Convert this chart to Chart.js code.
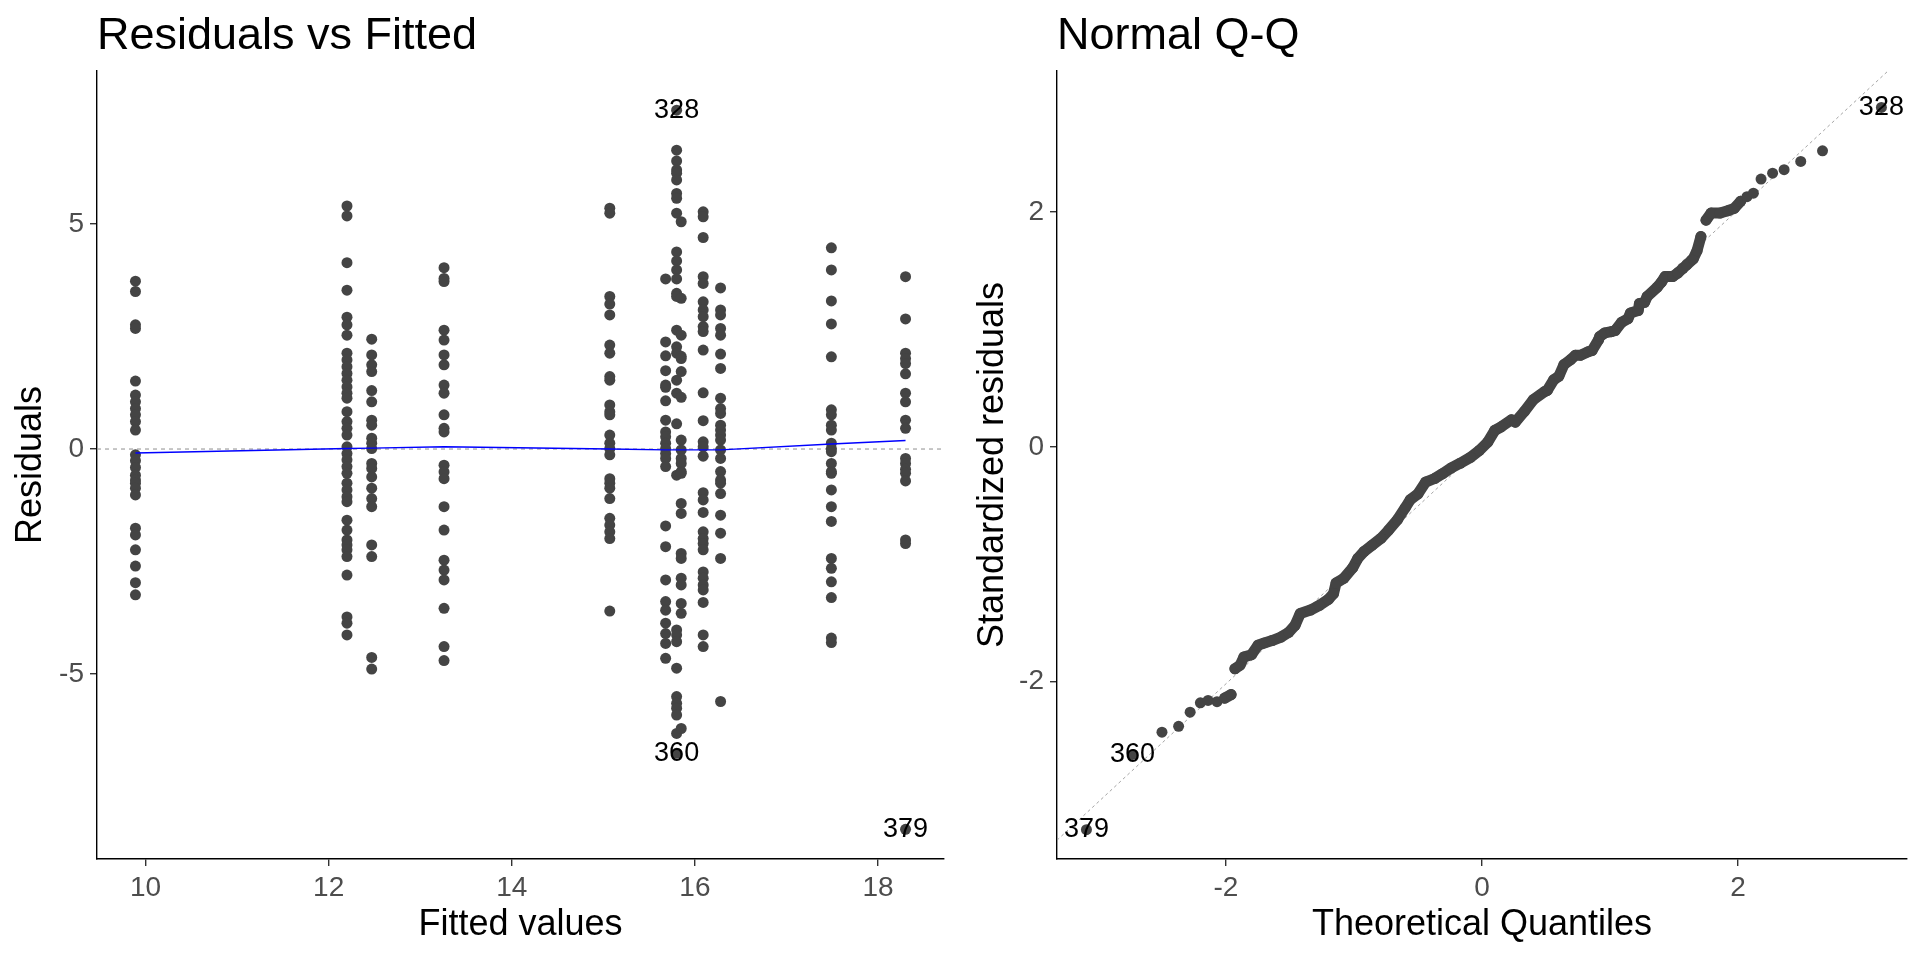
<!DOCTYPE html>
<html>
<head>
<meta charset="utf-8">
<title>Residuals vs Fitted / Normal Q-Q</title>
<script src="https://cdn.jsdelivr.net/npm/chart.js@4.4.1/dist/chart.umd.min.js"></script>
<style>
    html, body { margin: 0; padding: 0; background: #ffffff; }
    .panel { position: absolute; top: 0; width: 960px; height: 960px; }
    #left-panel { left: 0; }
    #right-panel { left: 960px; }
</style>
</head>
<body>
<div class="panel" id="left-panel"><canvas id="residuals-fitted"></canvas></div>
<div class="panel" id="right-panel"><canvas id="normal-qq"></canvas></div>
<script>
// ---- Residuals vs Fitted: residuals ----
const fittedLevels = [9.89, 12.2, 12.47, 13.26, 15.07, 15.68, 15.80, 15.85, 16.09, 16.28, 17.49, 18.30];

const resAt9_89 = [3.73, 3.50, 2.76, 2.68, 1.51, 1.20, 1.05, 0.90, 0.76, 0.61, 0.42, -0.13, -0.26, -0.41, -0.58, -0.69, -0.76, -0.87, -1.02, -1.76, -1.91, -2.24, -2.60, -2.97, -3.24];
const resAt12_2 = [5.40, 5.18, 4.14, 3.53, 2.93, 2.76, 2.53, 2.13, 1.98, 1.83, 1.68, 1.53, 1.38, 1.24, 1.13, 0.83, 0.61, 0.46, 0.31, 0.05, -0.10, -0.24, -0.39, -0.54, -0.76, -0.91, -1.06, -1.17, -1.58, -1.80, -2.02, -2.13, -2.24, -2.39, -2.80, -3.73, -3.87, -4.13];
const resAt12_47 = [2.44, 2.09, 1.87, 1.72, 1.30, 1.05, 0.64, 0.53, 0.24, 0.13, 0.01, -0.32, -0.43, -0.62, -0.87, -1.10, -1.28, -2.13, -2.39, -4.63, -4.89];
const resAt13_26 = [4.03, 3.79, 3.72, 2.64, 2.42, 2.09, 1.87, 1.42, 1.24, 0.76, 0.46, 0.38, -0.36, -0.51, -0.66, -1.28, -1.80, -2.47, -2.69, -2.91, -3.54, -4.39, -4.70];
const resAt15_07 = [5.35, 5.24, 3.39, 3.22, 2.98, 2.31, 2.13, 1.61, 1.53, 0.98, 0.83, 0.76, 0.31, 0.13, 0.01, -0.13, -0.66, -0.76, -0.87, -1.10, -1.54, -1.69, -1.84, -1.99, -3.60];
const resAt15_68 = [3.78, 2.38, 2.07, 1.74, 1.42, 1.37, 1.07, 0.64, 0.38, 0.27, 0.13, 0.01, -0.10, -0.21, -0.39, -1.71, -2.17, -2.91, -3.39, -3.58, -3.87, -4.10, -4.32, -4.65];
const resAt15_80 = [7.53, 6.64, 6.40, 6.20, 6.13, 5.98, 5.68, 5.57, 5.24, 4.38, 4.18, 3.98, 3.78, 3.46, 3.39, 2.64, 2.27, 2.13, 1.53, 1.24, 0.56, -0.58, -4.02, -4.13, -4.28, -4.87, -5.50, -5.65, -5.76, -5.91, -6.32, -6.76];
const resAt15_85 = [5.05, 3.35, 2.53, 2.06, 2.01, 1.72, 1.15, 0.20, -0.02, -0.21, -0.32, -0.50, -0.54, -1.21, -1.43, -2.32, -2.43, -2.87, -3.02, -3.43, -3.65, -6.21];
const resAt16_09 = [5.27, 5.16, 4.70, 3.83, 3.68, 3.27, 3.09, 2.94, 2.72, 2.61, 2.20, 1.25, 0.63, 0.16, 0.05, -0.16, -0.97, -1.13, -1.41, -1.84, -1.99, -2.10, -2.24, -2.73, -2.87, -3.02, -3.13, -3.41, -4.13, -4.39];
const resAt16_28 = [3.58, 3.09, 2.98, 2.68, 2.53, 2.11, 1.79, 1.13, 0.90, 0.79, 0.53, 0.42, 0.31, 0.20, -0.02, -0.21, -0.50, -0.69, -0.76, -0.99, -1.47, -1.87, -2.43, -5.61];
const resAt17_49 = [4.47, 3.98, 3.29, 2.78, 2.05, 0.87, 0.76, 0.53, 0.42, 0.13, 0.01, -0.06, -0.32, -0.50, -0.54, -0.91, -1.28, -1.61, -2.43, -2.65, -2.95, -3.30, -4.20, -4.30];
const resAt18_30 = [3.83, 2.89, 2.13, 2.01, 1.90, 1.67, 1.24, 1.05, 0.64, 0.46, -0.21, -0.32, -0.45, -0.54, -0.71, -2.02, -2.10, -8.45];

const residualGroups = [resAt9_89, resAt12_2, resAt12_47, resAt13_26, resAt15_07, resAt15_68,
                        resAt15_80, resAt15_85, resAt16_09, resAt16_28, resAt17_49, resAt18_30];

// smoother (blue line) at each fitted level
const smoothY = [-0.09, 0.01, 0.02, 0.05, 0.00, -0.02, -0.02, -0.02, -0.02, -0.02, 0.11, 0.19];

const fittedTicks = [10, 12, 14, 16, 18];
const residualTicks = [-5, 0, 5];
const fittedRange = [9.47, 18.72];
const residualRange = [-9.11, 8.40];

const outlierIds = ['328', '360', '379'];
const outlierFitted = [15.80, 15.80, 18.30];
const outlierResiduals = [7.53, -6.76, -8.45];

// ---- Normal Q-Q: points ----
const qqTheoretical = [-3.09, -2.73, -2.50, -2.37, -2.28, -2.20, -2.14, -2.07, -2.01, -1.96, -1.93, -1.89, -1.86, -1.80, -1.75, -1.70,
    -1.64, -1.57, -1.51, -1.46, -1.42, -1.34, -1.27, -1.20, -1.16, -1.14, -1.08, -1.01, -0.97, -0.92, -0.86, -0.79,
    -0.73, -0.66, -0.60, -0.56, -0.50, -0.44, -0.37, -0.31, -0.24, -0.17, -0.09, -0.02, 0.045, 0.10, 0.15, 0.23,
    0.26, 0.33, 0.40, 0.49, 0.51, 0.56, 0.60, 0.64, 0.69, 0.73, 0.77, 0.83, 0.86, 0.91, 0.92, 0.96,
    1.01, 1.04, 1.09, 1.14, 1.16, 1.22, 1.23, 1.27, 1.29, 1.37, 1.40, 1.43, 1.49, 1.53, 1.57, 1.60,
    1.65, 1.68, 1.71, 1.75, 1.79, 1.86, 1.92, 1.97, 2.02, 2.07, 2.12, 2.18, 2.27, 2.36, 2.49, 2.66, 3.12];
const qqStandardized = [-3.26, -2.62, -2.43, -2.38, -2.26, -2.18, -2.16, -2.17, -2.14, -2.11, -1.89, -1.86, -1.79, -1.77, -1.69, -1.67,
    -1.65, -1.62, -1.58, -1.52, -1.42, -1.39, -1.35, -1.30, -1.25, -1.16, -1.12, -1.03, -0.95, -0.89, -0.84, -0.78,
    -0.71, -0.62, -0.52, -0.45, -0.40, -0.30, -0.27, -0.23, -0.18, -0.14, -0.09, -0.03, 0.04, 0.14, 0.17, 0.23,
    0.21, 0.30, 0.40, 0.47, 0.48, 0.57, 0.60, 0.70, 0.74, 0.78, 0.78, 0.81, 0.82, 0.91, 0.94, 0.97,
    0.98, 0.99, 1.06, 1.09, 1.14, 1.16, 1.22, 1.23, 1.28, 1.36, 1.40, 1.45, 1.45, 1.48, 1.52, 1.55,
    1.60, 1.67, 1.79, 1.93, 1.99, 1.99, 2.01, 2.03, 2.09, 2.13, 2.16, 2.28, 2.33, 2.36, 2.43, 2.52, 2.89];

const qqLineX = [-3.32, 3.32];
const qqLineY = [-3.35, 3.35];

const quantileTicks = [-2, 0, 2];
const stdResTicks = [-2, 0, 2];
const quantileRange = [-3.32, 3.32];
const stdResRange = [-3.51, 3.20];

const qqOutlierIds = ['328', '360', '379'];
const qqOutlierX = [3.12, -2.73, -3.09];
const qqOutlierY = [2.89, -2.62, -3.26];

// ---- shared styling ----
const FONT = '"Liberation Sans", Arial, Helvetica, sans-serif';
const POINT_COLOR = '#444444';
const POINT_RADIUS = 5.5;

const pointLabelPlugin = {
    id: 'pointLabels',
    afterDatasetsDraw(chart, args, opts) {
        const ctx = chart.ctx;
        const xs = chart.scales.x;
        const ys = chart.scales.y;
        ctx.save();
        ctx.font = '27px ' + FONT;
        ctx.fillStyle = '#000000';
        ctx.textAlign = 'center';
        ctx.textBaseline = 'middle';
        opts.ids.forEach((id, i) => {
            ctx.fillText(id, xs.getPixelForValue(opts.xs[i]), ys.getPixelForValue(opts.ys[i]));
        });
        ctx.restore();
    }
};

function makeAxis(range, tickValues, titleText, vertical, titlePad) {
    return {
        type: 'linear',
        position: vertical ? 'left' : 'bottom',
        min: range[0],
        max: range[1],
        border: { display: true, color: '#000000', width: 1.4 },
        grid: { display: true, drawOnChartArea: false, drawTicks: true, tickLength: 7, tickColor: '#333333', lineWidth: 1.4 },
        ticks: {
            color: '#4D4D4D',
            font: { family: FONT, size: 28 },
            padding: vertical ? 6 : 5,
            callback: v => String(v)
        },
        title: {
            display: true,
            text: titleText,
            color: '#000000',
            font: { family: FONT, size: 36 },
            padding: vertical ? { top: titlePad, bottom: 0 } : { top: 0, bottom: titlePad }
        },
        afterBuildTicks: axis => { axis.ticks = tickValues.map(v => ({ value: v })); },
        afterFit: axis => {
            axis.paddingTop = 0; axis.paddingBottom = 0;
            axis.paddingLeft = 0; axis.paddingRight = 0;
            if (vertical) axis.width = 97; else axis.height = 101;
        }
    };
}

function baseOptions(titleText, rightPad, xAxis, yAxis, labels) {
    return {
        responsive: true,
        maintainAspectRatio: false,
        devicePixelRatio: 1,
        animation: false,
        layout: { padding: { left: 0, right: rightPad, top: 0, bottom: 0 } },
        plugins: {
            legend: { display: false },
            tooltip: { enabled: false },
            title: {
                display: true,
                text: titleText,
                align: 'start',
                fullSize: false,
                color: '#000000',
                font: { family: FONT, size: 45, weight: 'normal' },
                padding: { top: 10, bottom: 7 }
            },
            pointLabels: labels
        },
        scales: { x: xAxis, y: yAxis }
    };
}

function createResidualsChart() {
    const points = [];
    residualGroups.forEach((group, i) => {
        group.forEach(r => points.push({ x: fittedLevels[i], y: r }));
    });
    const smooth = fittedLevels.map((f, i) => ({ x: f, y: smoothY[i] }));
    const zeroLine = fittedRange.map(f => ({ x: f, y: 0 }));

    const ctx = document.getElementById('residuals-fitted').getContext('2d');
    return new Chart(ctx, {
        type: 'scatter',
        data: {
            datasets: [
                { type: 'line', data: smooth, borderColor: '#0000FF', borderWidth: 1.4, pointRadius: 0, fill: false, tension: 0 },
                { data: points, pointRadius: POINT_RADIUS, pointBackgroundColor: POINT_COLOR, pointBorderWidth: 0, pointBorderColor: POINT_COLOR },
                { type: 'line', data: zeroLine, borderColor: '#999999', borderWidth: 1.1, borderDash: [4, 4], pointRadius: 0, fill: false }
            ]
        },
        options: baseOptions('Residuals vs Fitted', 16,
            makeAxis(fittedRange, fittedTicks, 'Fitted values', false, 13),
            makeAxis(residualRange, residualTicks, 'Residuals', true, 9),
            { ids: outlierIds, xs: outlierFitted, ys: outlierResiduals }),
        plugins: [pointLabelPlugin]
    });
}

function createQQChart() {
    const points = qqTheoretical.map((q, i) => ({ x: q, y: qqStandardized[i] }));
    const refLine = qqLineX.map((q, i) => ({ x: q, y: qqLineY[i] }));

    // in the dense middle, neighbouring points overlap into one thick band
    const bandSegment = ctx => {
        const dx = ctx.p1.x - ctx.p0.x;
        const dy = ctx.p1.y - ctx.p0.y;
        const inBody = Math.abs(qqTheoretical[ctx.p0DataIndex]) < 2.05 && Math.abs(qqTheoretical[ctx.p1DataIndex]) < 2.05;
        return inBody && Math.sqrt(dx * dx + dy * dy) < 15 ? POINT_COLOR : 'rgba(0,0,0,0)';
    };

    const ctx = document.getElementById('normal-qq').getContext('2d');
    return new Chart(ctx, {
        type: 'scatter',
        data: {
            datasets: [
                {
                    data: points, showLine: true, borderWidth: POINT_RADIUS * 2, borderCapStyle: 'round', borderJoinStyle: 'round',
                    segment: { borderColor: bandSegment },
                    pointRadius: POINT_RADIUS, pointBackgroundColor: POINT_COLOR, pointBorderWidth: 0, pointBorderColor: POINT_COLOR
                },
                { type: 'line', data: refLine, borderColor: '#9a9a9a', borderWidth: 0.9, borderDash: [3, 3], pointRadius: 0, fill: false }
            ]
        },
        options: baseOptions('Normal Q-Q', 13,
            makeAxis(quantileRange, quantileTicks, 'Theoretical Quantiles', false, 13),
            makeAxis(stdResRange, stdResTicks, 'Standardized residuals', true, 11),
            { ids: qqOutlierIds, xs: qqOutlierX, ys: qqOutlierY }),
        plugins: [pointLabelPlugin]
    });
}

document.addEventListener('DOMContentLoaded', () => {
    createResidualsChart();
    createQQChart();
});
</script>
</body>
</html>
